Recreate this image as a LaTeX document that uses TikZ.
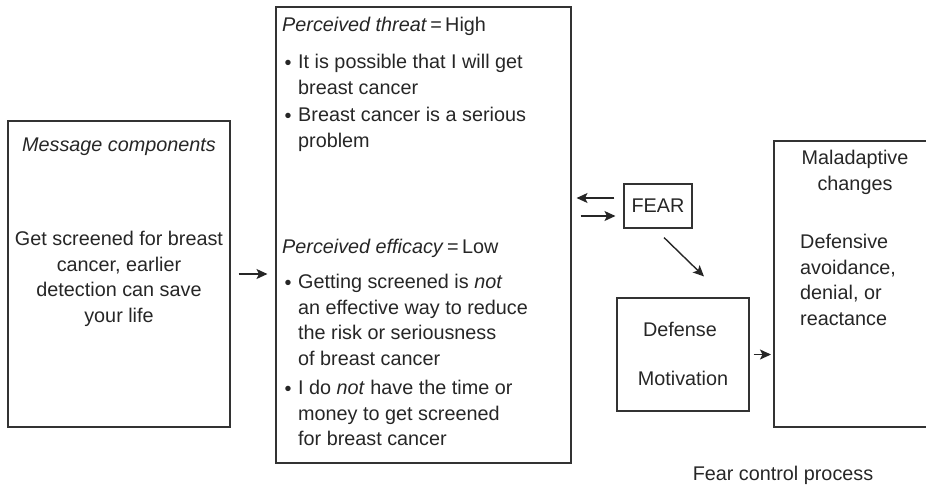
\documentclass[tikz,border=0pt]{standalone}
\usepackage{fontspec}
\setmainfont{Liberation Sans}
\usetikzlibrary{arrows.meta,calc}
\begin{document}
\begin{tikzpicture}[x=1pt,y=-1pt,
  txt/.style={inner sep=0pt,font=\fontsize{19.8}{25.7}\selectfont,text=black!85},
  boxn/.style={draw=black!80,line width=1.1pt,inner sep=0pt},
  arr/.style={draw=black!85,line width=1.4pt,-{Stealth[length=11pt,width=10pt,inset=2.5pt]}}]
\useasboundingbox (0,0) rectangle (926,488);
% boxes
\node[boxn,minimum width=222pt,minimum height=306pt] (msg) at (119,274) {};
\node[boxn,minimum width=295pt,minimum height=456pt] (per) at (423.5,235) {};
\node[boxn,minimum width=68pt,minimum height=44pt] (fear) at (658,206) {};
\node[boxn,minimum width=132pt,minimum height=113pt] (def) at (683,354.5) {};
\coordinate (malTL) at (774,141);
\coordinate (malBL) at (774,427);
\coordinate (malTR) at (930,141);
\coordinate (malBR) at (930,427);
\draw[draw=black!80,line width=1.1pt] (malTR) -- (malTL) -- (malBL) -- (malBR);
% texts box 1
\node[txt] (msgt) at (119,147) {\textit{Message components}};
\node[txt,align=center,anchor=north] (msgb) at (119,231) {Get screened for breast\\cancer, earlier\\detection can save\\your life};
% box 2
\node[txt,anchor=west] (pt) at (282,26) {\textit{Perceived threat}\,=\,High};
\node[txt,align=left,anchor=north west] (pt1) at (298,54) {It is possible that I will get\\breast cancer};
\node[txt,anchor=center] (b1) at (288,65) {\textbullet};
\node[txt,align=left,anchor=north west] (pt2) at (298,107) {Breast cancer is a serious\\problem};
\node[txt,anchor=center] (b2) at (288,118) {\textbullet};
\node[txt,anchor=west] (pe) at (282,248) {\textit{Perceived efficacy}\,=\,Low};
\node[txt,align=left,anchor=north west] (pe1) at (298,274) {Getting screened is \textit{not}\\an effective way to reduce\\the risk or seriousness\\of breast cancer};
\node[txt,anchor=center] (b3) at (288,285) {\textbullet};
\node[txt,align=left,anchor=north west] (pe2) at (298,380) {I do \textit{not} have the time or\\money to get screened\\for breast cancer};
\node[txt,anchor=center] (b4) at (288,391) {\textbullet};
% fear
\node[txt] (feart) at (fear) {FEAR};
% defense
\node[txt] (deft1) at (680,329) {Defense};
\node[txt] (deft2) at (683,378) {Motivation};
% maladaptive
\node[txt,align=center,anchor=north] (malt) at (855,150) {Maladaptive\\changes};
\node[txt,align=left,anchor=north west] (malb) at (800,234) {Defensive\\avoidance,\\denial, or\\reactance};
% caption
\node[txt] (cap) at (783,475) {Fear control process};
% arrows
\draw[arr] ($(msg.east)+(8,0)$) -- ($(msg.east -| per.west)+(-8,0)$);
\draw[arr] ($(fear.west)+(-9,-8)$) -- ($(per.east |- fear.west)+(5,-8)$);
\draw[arr] ($(per.east |- fear.west)+(9,10)$) -- ($(fear.west)+(-8,10)$);
\draw[arr] ($(fear.south)+(6,9)$) -- ($(def.north)+(21,-21)$);
\draw[arr] ($(def.east)+(4,0)$) -- ($(malBL |- def.east)+(-3,0)$);
\end{tikzpicture}
\end{document}
